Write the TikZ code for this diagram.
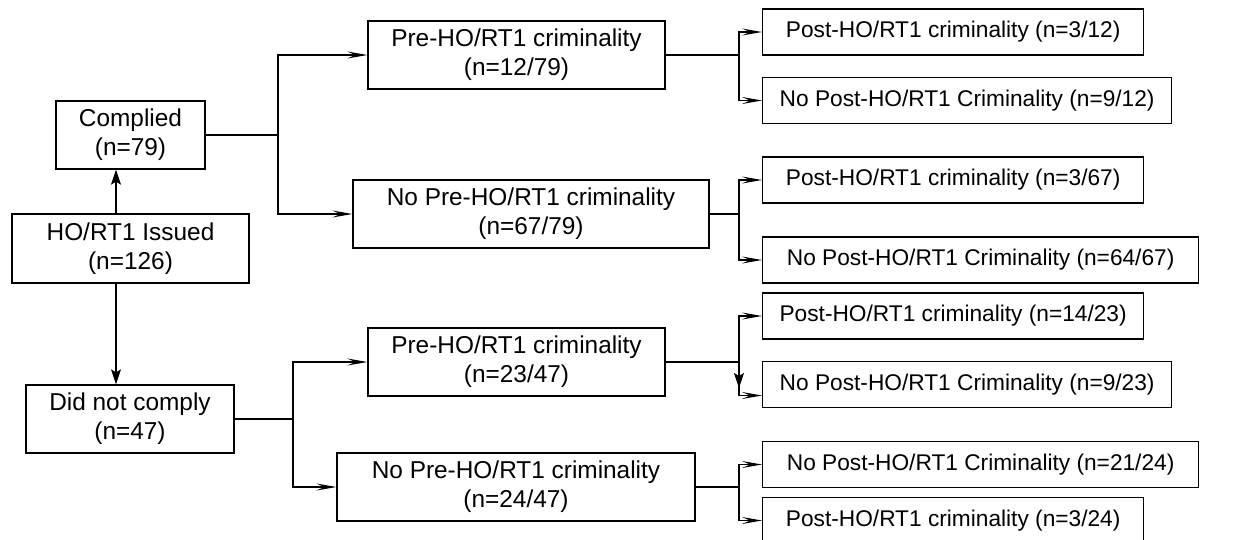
\documentclass[tikz,border=0pt]{standalone}
\usepackage{fontspec}
\setmainfont{Liberation Sans}
\usetikzlibrary{calc, arrows.meta}

\begin{document}
\begin{tikzpicture}[x = 1pt, y = -1pt,
            box/.style = {draw, line width = 1.3pt, inner sep = 0pt, minimum height = 68pt, align = center, font = \fontsize{24.4}{29}\selectfont},
            leaf/.style = {draw, line width = 1.3pt, inner sep = 0pt, minimum height = 46pt, anchor = west, font = \fontsize{22.7}{27}\selectfont},
            link/.style = {line width = 1.3pt},
            harrow/.style = {link, -{Stealth[length = 20pt, width = 7pt, inset = 8pt]}},
            varrow/.style = {link, -{Stealth[length = 15pt, width = 10pt, inset = 3pt]}}]
            \useasboundingbox (0, 0) rectangle (1250, 539);
            
            % first column
            \node[box, minimum width = 237pt, minimum height = 69pt] (issued) at (130.5, 248.5) {HO/RT1 Issued \\ (n=126)};
            \node[box, minimum width = 149pt] (complied) at (130.5, 135) {Complied \\ (n=79)};
            \node[box, minimum width = 208pt] (notcomply) at (130, 419) {Did not comply \\ (n=47)};
            
            \coordinate (stem) at (116, 0);
            \draw[varrow] (stem |- issued.north) -- (stem |- complied.south);
            \draw[varrow] (stem |- issued.south) -- (stem |- notcomply.north);
            
            % second column
            \node[box, minimum width = 297pt] (pre1) at (516.5, 55) {Pre-HO/RT1 criminality \\ (n=12/79)};
            \node[box, minimum width = 356pt] (nopre1) at (531, 214) {No Pre-HO/RT1 criminality \\ (n=67/79)};
            \node[box, minimum width = 297pt] (pre2) at (516.5, 362) {Pre-HO/RT1 criminality \\ (n=23/47)};
            \node[box, minimum width = 358pt] (nopre2) at (516, 487) {No Pre-HO/RT1 criminality \\ (n=24/47)};
            
            \coordinate (jc) at (278, 135);
            \draw[link] (complied.east) -- (jc);
            \draw[harrow] (jc) |- (pre1.west);
            \draw[harrow] (jc) |- (nopre1.west);
            
            \coordinate (jn) at (293, 419);
            \draw[link] (notcomply.east) -- (jn);
            \draw[harrow] (jn) |- (pre2.west);
            \draw[harrow] (jn) |- (nopre2.west);
            
            % third column
            \node[leaf, minimum width = 381pt] (r1) at (762, 32) {Post-HO/RT1 criminality (n=3/12)};
            \node[leaf, minimum width = 409pt] (r2) at (762, 100.5) {No Post-HO/RT1 Criminality (n=9/12)};
            \node[leaf, minimum width = 381pt] (r3) at (762, 180) {Post-HO/RT1 criminality (n=3/67)};
            \node[leaf, minimum width = 436pt] (r4) at (762, 260) {No Post-HO/RT1 Criminality (n=64/67)};
            \node[leaf, minimum width = 381pt] (r5) at (762, 316) {Post-HO/RT1 criminality (n=14/23)};
            \node[leaf, minimum width = 409pt] (r6) at (762, 384.5) {No Post-HO/RT1 Criminality (n=9/23)};
            \node[leaf, minimum width = 436pt] (r7) at (762, 464.5) {No Post-HO/RT1 Criminality (n=21/24)};
            \node[leaf, minimum width = 381pt] (r8) at (762, 520.5) {Post-HO/RT1 criminality (n=3/24)};
            
            \coordinate (rail) at (739, 0);
            \draw[link] (pre1.east) -- (pre1.east -| rail);
            \draw[harrow] (pre1.east -| rail) |- (r1.west);
            \draw[harrow] (pre1.east -| rail) |- (r2.west);
            
            \draw[link] (nopre1.east) -- (nopre1.east -| rail);
            \draw[harrow] (nopre1.east -| rail) |- (r3.west);
            \draw[harrow] (nopre1.east -| rail) |- (r4.west);
            
            \draw[link] (pre2.east) -- (pre2.east -| rail);
            \draw[harrow] (pre2.east -| rail) |- (r5.west);
            \draw[harrow] (pre2.east -| rail) |- ($(r6.west) + (0, 11)$);
            \draw[varrow] (pre2.east -| rail) -- ++(0, 26);
            
            \draw[link] (nopre2.east) -- (nopre2.east -| rail);
            \draw[harrow] (nopre2.east -| rail) |- (r7.west);
            \draw[harrow] (nopre2.east -| rail) |- (r8.west);
        \end{tikzpicture}
\end{document}
